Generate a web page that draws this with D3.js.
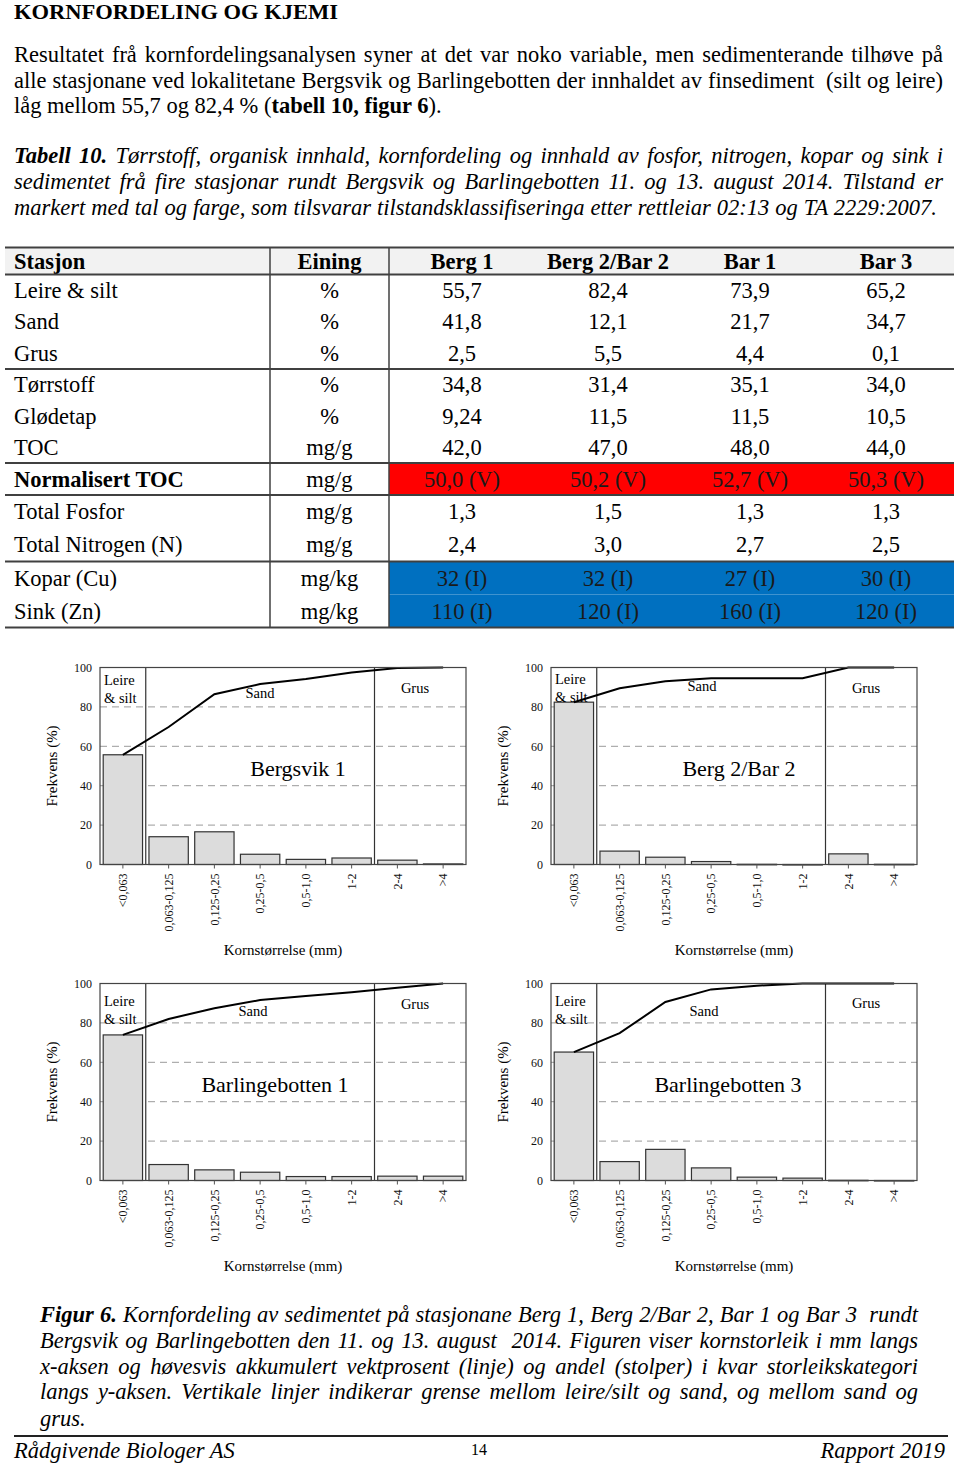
<!DOCTYPE html>
<html><head><meta charset="utf-8">
<script src="https://cdn.jsdelivr.net/npm/d3@7"></script>
<style>
html,body{margin:0;padding:0;background:#fff;}
svg{display:block;font-family:"Liberation Serif","Times New Roman",serif;}
</style></head><body>
<svg id="page" width="960" height="1466"></svg>
<script>
// ---------------- DATA ----------------
const sizeClasses = ["<0,063","0,063-0,125","0,125-0,25","0,25-0,5","0,5-1,0","1-2","2-4",">4"];

const bergsvik1Bars = [55.7, 14.1, 16.6, 5.2, 2.6, 3.3, 2.2, 0.3];
const bergsvik1Cum  = [55.7, 69.8, 86.4, 91.6, 94.2, 97.5, 99.7, 100];
const berg2Bars     = [82.4, 6.8, 3.7, 1.5, 0.1, 0.0, 5.4, 0.1];
const berg2Cum      = [82.4, 89.5, 93.0, 94.5, 94.5, 94.5, 100, 100];
const barl1Bars     = [73.9, 8.1, 5.4, 4.2, 2.0, 2.0, 2.2, 2.2];
const barl1Cum      = [73.9, 82.0, 87.4, 91.6, 93.6, 95.6, 97.8, 100];
const barl3Bars     = [65.2, 9.6, 15.8, 6.4, 1.7, 1.2, 0.1, 0.0];
const barl3Cum      = [65.2, 74.8, 90.6, 97.0, 98.9, 100, 100, 100];

const chartTitles = ["Bergsvik 1", "Berg 2/Bar 2", "Barlingebotten 1", "Barlingebotten 3"];
const yTicks = [0, 20, 40, 60, 80, 100];

const tableHeader = ["Stasjon", "Eining", "Berg 1", "Berg 2/Bar 2", "Bar 1", "Bar 3"];
const parameters = ["Leire & silt","Sand","Grus","Tørrstoff","Glødetap","TOC","Normalisert TOC","Total Fosfor","Total Nitrogen (N)","Kopar (Cu)","Sink (Zn)"];
const units      = ["%","%","%","%","%","mg/g","mg/g","mg/g","mg/g","mg/kg","mg/kg"];
const berg1Vals  = ["55,7","41,8","2,5","34,8","9,24","42,0","50,0 (V)","1,3","2,4","32 (I)","110 (I)"];
const berg2Vals  = ["82,4","12,1","5,5","31,4","11,5","47,0","50,2 (V)","1,5","3,0","32 (I)","120 (I)"];
const bar1Vals   = ["73,9","21,7","4,4","35,1","11,5","48,0","52,7 (V)","1,3","2,7","27 (I)","160 (I)"];
const bar3Vals   = ["65,2","34,7","0,1","34,0","10,5","44,0","50,3 (V)","1,3","2,5","30 (I)","120 (I)"];
const rowClass   = [null,null,null,null,null,null,"V",null,null,"I","I"];

const heading = "KORNFORDELING OG KJEMI";
const introLines = [
  [{t:"Resultatet frå kornfordelingsanalysen syner at det var noko variable, men sedimenterande tilhøve på"}],
  [{t:"alle stasjonane ved lokalitetane Bergsvik og Barlingebotten der innhaldet av finsediment  (silt og leire)"}],
  [{t:"låg mellom 55,7 og 82,4 % ("},{t:"tabell 10, figur 6",b:1},{t:")."}]
];
const tableCaption = [
  [{t:"Tabell 10.",b:1},{t:" Tørrstoff, organisk innhald, kornfordeling og innhald av fosfor, nitrogen, kopar og sink i"}],
  [{t:"sedimentet frå fire stasjonar rundt Bergsvik og Barlingebotten 11. og 13. august 2014. Tilstand er"}],
  [{t:"markert med tal og farge, som tilsvarar tilstandsklassifiseringa etter rettleiar 02:13 og TA 2229:2007."}]
];
const figCaption = [
  [{t:"Figur 6.",b:1},{t:" Kornfordeling av sedimentet på stasjonane Berg 1, Berg 2/Bar 2, Bar 1 og Bar 3  rundt"}],
  [{t:"Bergsvik og Barlingebotten den 11. og 13. august  2014. Figuren viser kornstorleik i mm langs"}],
  [{t:"x-aksen og høvesvis akkumulert vektprosent (linje) og andel (stolper) i kvar storleikskategori"}],
  [{t:"langs y-aksen. Vertikale linjer indikerar grense mellom leire/silt og sand, og mellom sand og"}],
  [{t:"grus."}]
];
const footerLeft = "Rådgivende Biologer AS", footerMid = "14", footerRight = "Rapport 2019";

// ---------------- DRAWING ----------------
const FS = 22.5;
const svg = d3.select("#page");
svg.append("rect").attr("width",960).attr("height",1466).attr("fill","#fff");

function textLine(x, y, segs, opts) {
  const t = svg.append("text").attr("x", x).attr("y", y)
    .attr("font-size", opts.size).attr("fill", "#000")
    .attr("font-style", opts.italic ? "italic" : null)
    .style("white-space", "pre");
  segs.forEach(s => t.append("tspan").text(s.t).attr("font-weight", s.b ? "bold" : null));
  if (opts.width) {
    const w = t.node().getComputedTextLength();
    const full = segs.map(s => s.t).join("");
    const spaces = (full.match(/ /g) || []).length;
    const extra = opts.width - w;
    if (extra >= 0 && spaces > 0 && extra / spaces < 8) t.attr("word-spacing", extra / spaces);
    else t.attr("textLength", opts.width).attr("lengthAdjust", "spacingAndGlyphs");
  }
  return t;
}

// Heading
textLine(14, 19, [{t:heading, b:1}], {size:20, width:324});

// Intro paragraph
const introY = [62, 88, 113];
introLines.forEach((l, i) => textLine(14, introY[i], l, {size:FS, width: i < 2 ? 929 : null}));

// Table caption
const capY = [163, 189, 215];
tableCaption.forEach((l, i) => textLine(14, capY[i], l, {size:FS, italic:true, width: i < 2 ? 929 : 923}));

// ---------------- TABLE ----------------
const tblL = 5, tblR = 954, tblTop = 247.5, hdrBot = 274.5;
const colX = [14, 329.5, 462, 608, 750, 886];
const sepX = [270, 389];
const groups = [[0,1,2],[3,4,5],[6],[7,8],[9,10]];
const groupBounds = [274.5, 369, 463, 495, 561.5, 627.5];
const classColor = {V:"#ff0000", I:"#0070c0"};
const stationVals = [berg1Vals, berg2Vals, bar1Vals, bar3Vals];

svg.append("rect").attr("x",tblL).attr("y",tblTop).attr("width",tblR-tblL).attr("height",hdrBot-tblTop).attr("fill","#f2f2f2");

const rowTop = [], rowBot = [];
groups.forEach((g, gi) => {
  const h = (groupBounds[gi+1] - groupBounds[gi]) / g.length;
  g.forEach((r, k) => { rowTop[r] = groupBounds[gi] + k*h; rowBot[r] = rowTop[r] + h; });
});

parameters.forEach((p, r) => {
  if (rowClass[r]) {
    svg.append("rect").attr("x", sepX[1]).attr("y", rowTop[r]).attr("width", tblR - sepX[1])
      .attr("height", rowBot[r] - rowTop[r]).attr("fill", classColor[rowClass[r]]);
  }
});

tableHeader.forEach((h, c) => {
  svg.append("text").attr("x", colX[c]).attr("y", 269).attr("font-size", FS).attr("font-weight","bold")
    .attr("text-anchor", c === 0 ? "start" : "middle").text(h);
});
parameters.forEach((p, r) => {
  const base = (rowTop[r] + rowBot[r]) / 2 + 7.5;
  svg.append("text").attr("x", colX[0]).attr("y", base).attr("font-size", FS)
    .attr("font-weight", p === "Normalisert TOC" ? "bold" : null).text(p);
  svg.append("text").attr("x", colX[1]).attr("y", base).attr("font-size", FS).attr("text-anchor","middle").text(units[r]);
  stationVals.forEach((vals, s) => {
    svg.append("text").attr("x", colX[s+2]).attr("y", base).attr("font-size", FS).attr("text-anchor","middle")
      .attr("fill", rowClass[r] ? "#1a1a1a" : "#000").text(vals[r]);
  });
});
[tblTop, hdrBot].concat(groupBounds.slice(1)).forEach(y => {
  svg.append("line").attr("x1", tblL).attr("x2", tblR).attr("y1", y).attr("y2", y)
    .attr("stroke", "#404040").attr("stroke-width", 2);
});
sepX.forEach(x => {
  svg.append("line").attr("x1", x).attr("x2", x).attr("y1", tblTop).attr("y2", groupBounds[5])
    .attr("stroke", "#404040").attr("stroke-width", 1.5);
});

// ---------------- CHARTS ----------------
const chartData = [
  {title: chartTitles[0], bars: bergsvik1Bars, cum: bergsvik1Cum},
  {title: chartTitles[1], bars: berg2Bars, cum: berg2Cum},
  {title: chartTitles[2], bars: barl1Bars, cum: barl1Cum},
  {title: chartTitles[3], bars: barl3Bars, cum: barl3Cum}
];
const chartLayout = [
  {x:100, y:667.5, tx:198, leireY:17.5, sandX:160, sandY:30.5, grusY:25.5},
  {x:551, y:667.5, tx:188, leireY:16.5, sandX:151, sandY:23.5, grusY:25.5},
  {x:100, y:983.5, tx:175, leireY:22.5, sandX:153, sandY:32.5, grusY:25.5},
  {x:551, y:983.5, tx:177, leireY:22.5, sandX:153, sandY:32.5, grusY:24.5}
];
const W = 366, H = 197;

chartData.forEach((cd, i) => {
  const L = chartLayout[i];
  const g = svg.append("g").attr("transform", `translate(${L.x},${L.y})`);
  const x = d3.scaleBand().domain(sizeClasses).range([0, W]).paddingInner(0.14).paddingOuter(0.07);
  const y = d3.scaleLinear().domain([0, 100]).range([H, 0]);

  g.selectAll(".grid").data(yTicks.filter(v => v > 0 && v < 100)).join("line")
    .attr("x1", 0).attr("x2", W).attr("y1", d => y(d)).attr("y2", d => y(d))
    .attr("stroke", "#9a9a9a").attr("stroke-width", 1).attr("stroke-dasharray", "7,5");

  g.selectAll(".bar").data(cd.bars.map((v, k) => ({c: sizeClasses[k], v}))).join("rect")
    .attr("x", d => x(d.c)).attr("width", x.bandwidth())
    .attr("y", d => y(d.v)).attr("height", d => Math.max(0.5, H - y(d.v)))
    .attr("fill", "#dcdcdc").attr("stroke", "#333").attr("stroke-width", 1.2);

  const divAt = k => (x(sizeClasses[k-1]) + x.bandwidth() + x(sizeClasses[k])) / 2;
  [1, 6].forEach(k => g.append("line").attr("x1", divAt(k)).attr("x2", divAt(k)).attr("y1", 0).attr("y2", H)
    .attr("stroke", "#333").attr("stroke-width", 1.2));

  g.append("text").attr("x", 4).attr("y", L.leireY).attr("font-size", 14.5).text("Leire");
  g.append("text").attr("x", 4).attr("y", L.leireY + 18).attr("font-size", 14.5).text("& silt");
  g.append("text").attr("x", L.sandX).attr("y", L.sandY).attr("font-size", 14.5).attr("text-anchor","middle").text("Sand");
  g.append("text").attr("x", 315).attr("y", L.grusY).attr("font-size", 14.5).attr("text-anchor","middle").text("Grus");

  const line = d3.line().x((d, k) => x(sizeClasses[k]) + x.bandwidth()/2).y(d => y(d));
  g.append("path").datum(cd.cum).attr("d", line).attr("fill", "none").attr("stroke", "#000").attr("stroke-width", 2);

  g.append("text").attr("x", L.tx).attr("y", 108).attr("font-size", 22).attr("text-anchor","middle").text(cd.title);

  g.append("rect").attr("x", 0).attr("y", 0).attr("width", W).attr("height", H)
    .attr("fill", "none").attr("stroke", "#444").attr("stroke-width", 1.2);

  const ya = g.append("g").call(d3.axisLeft(y).tickValues(yTicks).tickSize(0).tickPadding(8));
  ya.select(".domain").remove();
  ya.selectAll("text").attr("font-size", 12).attr("font-family", "Liberation Serif").attr("fill", "#111");

  const xa = g.append("g").attr("transform", `translate(0,${H})`).call(d3.axisBottom(x).tickSize(4));
  xa.select(".domain").remove();
  xa.selectAll(".tick line").attr("stroke", "#555");
  xa.selectAll("text").attr("font-size", 12).attr("font-family", "Liberation Serif").attr("fill", "#111")
    .attr("transform", "rotate(-90)").attr("x", -9).attr("y", 0).attr("dy", "0.35em").attr("text-anchor", "end");

  g.append("text").attr("transform", `translate(-48,${H/2}) rotate(-90)`).attr("font-size", 15)
    .attr("text-anchor", "middle").attr("dy", "0.35em").text("Frekvens (%)");
  g.append("text").attr("x", W/2).attr("y", H + 90).attr("font-size", 15).attr("text-anchor", "middle").text("Kornstørrelse (mm)");
});

// ---------------- FIGURE CAPTION & FOOTER ----------------
const figY = [1322, 1348, 1374, 1399, 1426];
figCaption.forEach((l, i) => textLine(40, figY[i], l, {size:FS, italic:true, width: i < 4 ? 878 : null}));

svg.append("line").attr("x1", 14).attr("x2", 948).attr("y1", 1436).attr("y2", 1436).attr("stroke", "#222").attr("stroke-width", 2);
svg.append("text").attr("x", 14).attr("y", 1458).attr("font-size", FS).attr("font-style","italic").text(footerLeft);
svg.append("text").attr("x", 479).attr("y", 1455).attr("font-size", 16).attr("text-anchor","middle").text(footerMid);
svg.append("text").attr("x", 945).attr("y", 1458).attr("font-size", FS).attr("font-style","italic").attr("text-anchor","end").text(footerRight);
</script></body></html>
